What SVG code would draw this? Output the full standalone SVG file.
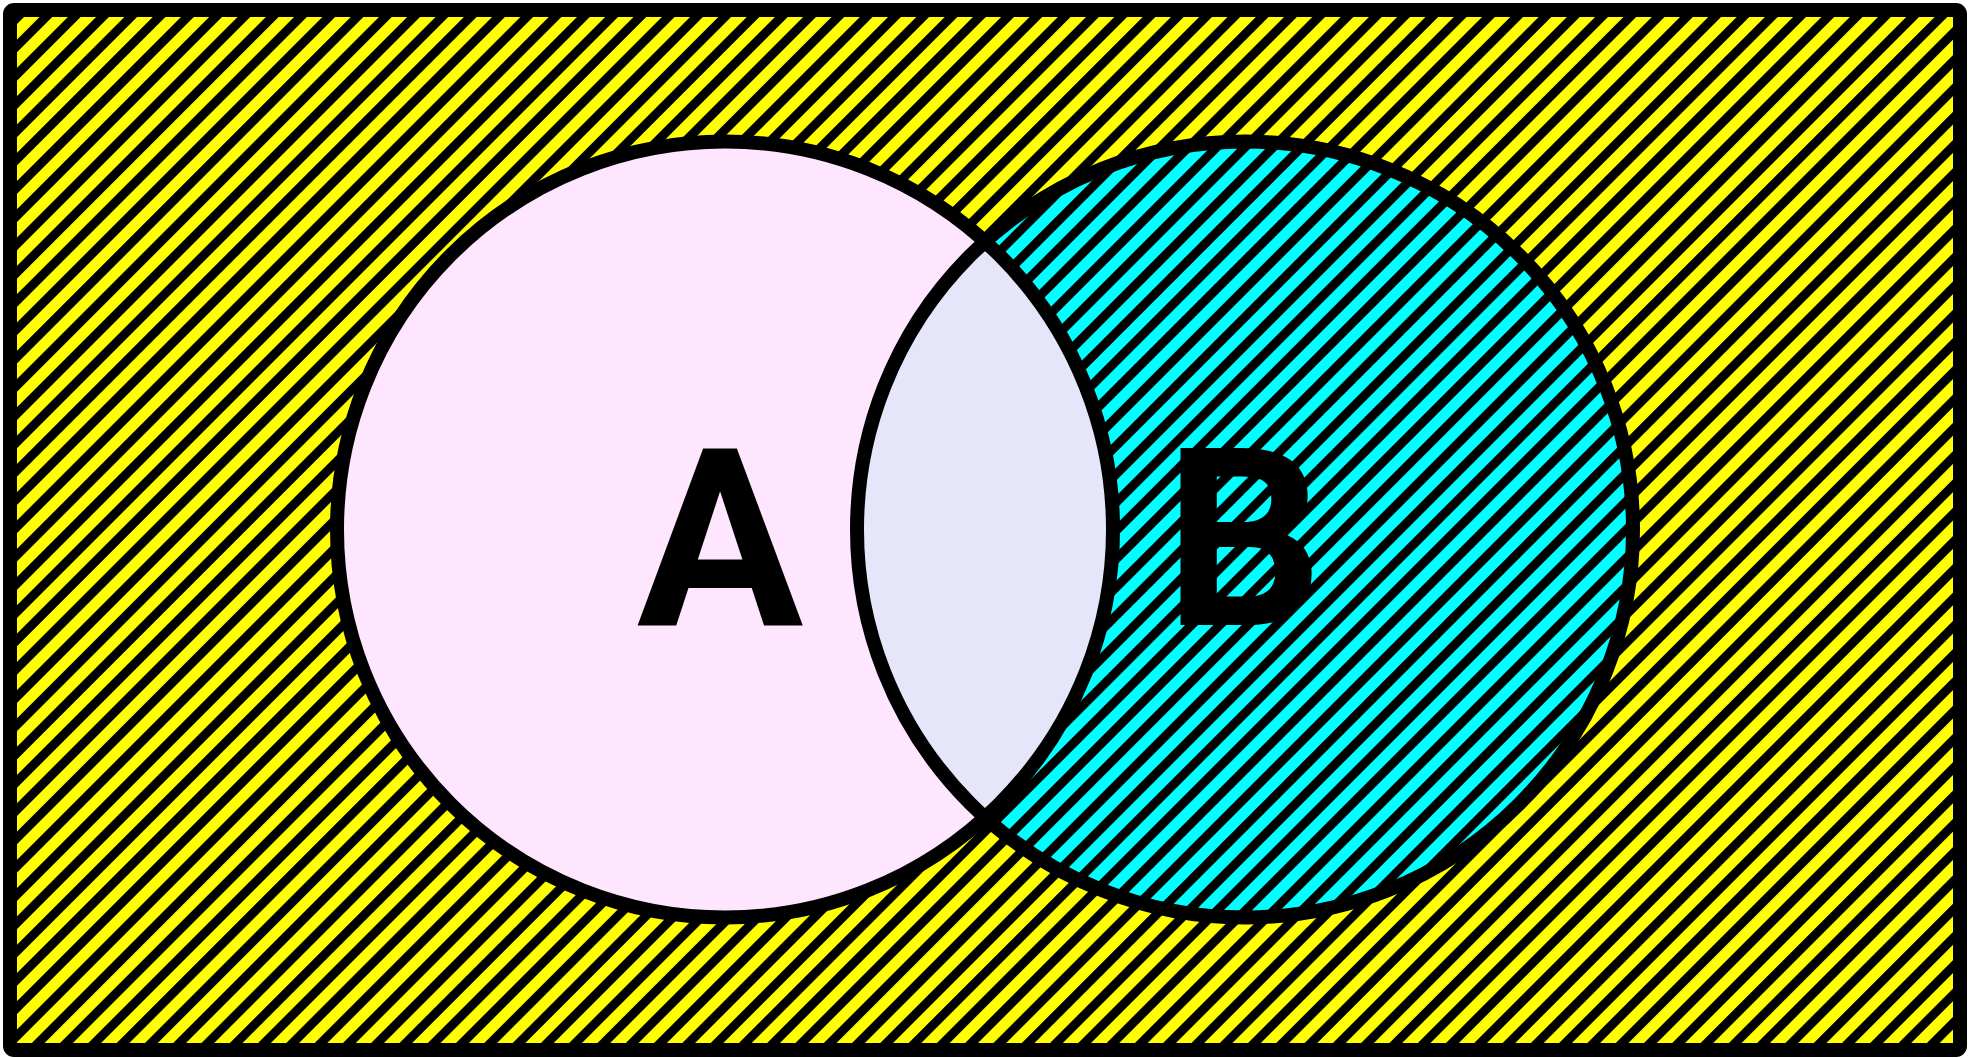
<svg xmlns="http://www.w3.org/2000/svg" width="1970" height="1058" viewBox="0 0 1970 1058">
<style>
.outline{fill:none;stroke:#000;stroke-width:14}
.lbl{font-family:Roboto,"Liberation Sans",sans-serif;font-weight:700;font-size:248px;fill:#000;text-anchor:middle}
</style>
<defs>
<pattern id="hatchY" patternUnits="userSpaceOnUse" width="40" height="20" patternTransform="rotate(-45)">
<rect width="40" height="20" fill="#ffff00"/>
<rect y="0" width="40" height="9" fill="#000"/>
</pattern>
<pattern id="hatchC" patternUnits="userSpaceOnUse" width="40" height="20" patternTransform="rotate(-45)">
<rect width="40" height="20" fill="#00ffff"/>
<rect y="0" width="40" height="9" fill="#000"/>
</pattern>
<clipPath id="clipA"><circle cx="725" cy="529.5" r="388"/></clipPath>
</defs>
<g id="universe">
<rect x="10" y="10" width="1950" height="1040" rx="4" fill="url(#hatchY)"/>
<rect x="10" y="10" width="1950" height="1040" rx="4" class="outline"/>
</g>
<g id="setB">
<circle cx="1245" cy="529.5" r="388" fill="url(#hatchC)"/>
</g>
<g id="setA">
<circle cx="725" cy="529.5" r="388" fill="#ffe6ff"/>
</g>
<g id="intersection">
<circle cx="1245" cy="529.5" r="388" fill="#e6e6fa" clip-path="url(#clipA)"/>
</g>
<g id="outlines">
<circle cx="725" cy="529.5" r="388" class="outline"/>
<circle cx="1245" cy="529.5" r="388" class="outline"/>
</g>
<g id="labels">
<text class="lbl" x="720" y="625">A</text>
<text class="lbl" x="1244" y="625">B</text>
</g>
</svg>
